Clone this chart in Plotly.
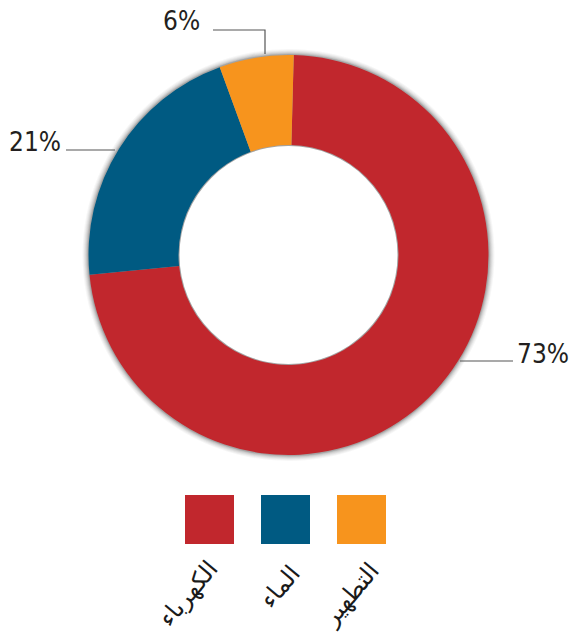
import plotly.graph_objects as go

# ---- data ----
categories = ["الكهرباء", "الماء", "التطهير"]
values = [73, 21, 6]
colors = ["#C1272D", "#005A82", "#F7941D"]

W, H = 573, 636
def px(x): return x / W
def py(y): return 1 - y / H

# pie geometry (pixels)
cx, cy, R = 288.5, 255, 200
HOLE = 0.55

fig = go.Figure()
fig.add_trace(go.Pie(
    labels=categories, values=values, hole=HOLE, sort=False,
    direction="clockwise", rotation=1.5,
    marker=dict(colors=colors, line=dict(color="rgba(0,0,0,0)", width=0)),
    textinfo="none", hoverinfo="label+percent", showlegend=False,
    domain=dict(x=[px(cx - R), px(cx + R)], y=[py(cy + R), py(cy - R)]),
))

shapes = []
# soft shadow around the ring
for d, op in [(6, 0.04), (5, 0.05), (4, 0.07), (3, 0.09), (2, 0.12), (1, 0.2)]:
    shapes.append(dict(type="circle", xref="paper", yref="paper", layer="below",
                       x0=px(cx - R - d), x1=px(cx + R + d), y0=py(cy + R + d), y1=py(cy - R - d),
                       fillcolor=f"rgba(60,60,60,{op})", line=dict(width=0)))
r_in = R * HOLE - 1
shapes.append(dict(type="circle", xref="paper", yref="paper", layer="below",
                   x0=px(cx - r_in), x1=px(cx + r_in), y0=py(cy + r_in), y1=py(cy - r_in),
                   fillcolor="white", line=dict(width=0)))

# leader lines and label positions (pixel layout): anchor point, anchor side
label_layout = [
    dict(text_xy=(571, 354), anchor="right", path=[(460, 361), (513, 361)]),
    dict(text_xy=(7, 142), anchor="left", path=[(66, 150), (115, 150)]),
    dict(text_xy=(202, 21), anchor="right", path=[(213, 30), (265, 30), (265, 54)]),
]
annotations = []
for v, lay in zip(values, label_layout):
    pts = lay["path"]
    d = "M " + " L ".join(f"{px(x)},{py(y)}" for x, y in pts)
    shapes.append(dict(type="path", xref="paper", yref="paper", path=d,
                       line=dict(color="#555555", width=1.2)))
    tx, ty = lay["text_xy"]
    annotations.append(dict(x=px(tx), y=py(ty), xref="paper", yref="paper",
                            text=f"{v}%", showarrow=False, xanchor=lay["anchor"], yanchor="middle",
                            font=dict(family="DejaVu Sans Condensed, Liberation Sans Narrow, Liberation Sans, sans-serif",
                                      size=26, color="#231F20")))

# legend swatches and rotated labels
sw_x = [185, 261, 337]
sw_size = 49
sw_y = 495
lbl_xy = [(188, 594), (280, 587), (350, 595)]
for cat, col, x0, (lx, ly) in zip(categories, colors, sw_x, lbl_xy):
    shapes.append(dict(type="rect", xref="paper", yref="paper",
                       x0=px(x0), x1=px(x0 + sw_size), y0=py(sw_y + sw_size), y1=py(sw_y),
                       fillcolor=col, line=dict(width=0)))
    annotations.append(dict(x=px(lx), y=py(ly), xref="paper", yref="paper", text=cat,
                            showarrow=False, textangle=-50, xanchor="center", yanchor="middle",
                            font=dict(family="DejaVu Sans", size=24, color="#1a1a1a")))

fig.update_layout(
    width=W, height=H, margin=dict(l=0, r=0, t=0, b=0),
    paper_bgcolor="white", plot_bgcolor="white",
    shapes=shapes, annotations=annotations,
)
fig.write_html("out.html", config={"displayModeBar": False},
               post_script="document.body.style.margin='0';document.body.style.overflow='hidden';")
